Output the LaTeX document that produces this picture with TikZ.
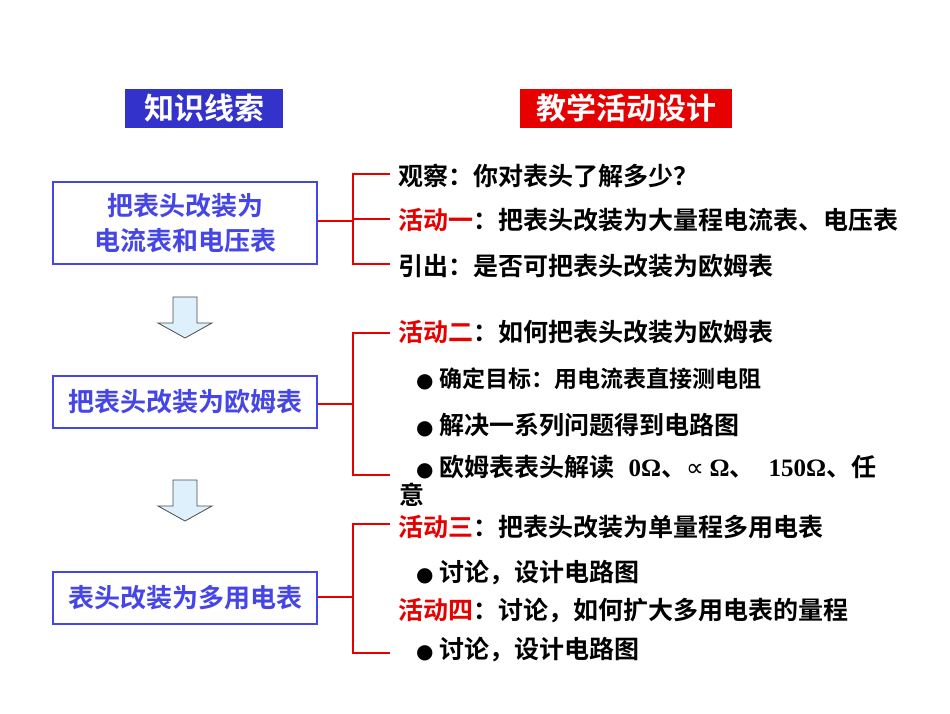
\documentclass[tikz,border=0pt]{standalone}
\usepackage{fontspec}
\setmainfont{Noto Sans CJK SC Bold}
\newfontfamily\serifb{Liberation Serif}[BoldFont=* Bold]
\newfontfamily\dejavu{DejaVu Sans}
\definecolor{tblue}{RGB}{51,51,204}
\definecolor{bblue}{RGB}{70,70,230}
\definecolor{tred}{RGB}{230,0,0}
\definecolor{arrfill}{RGB}{222,240,252}
\newcommand{\bul}{{\dejavu\fontsize{20}{22}\selectfont●}\hspace{6pt}}
\tikzset{
 title/.style={minimum width=#1, minimum height=39pt, inner sep=0pt, text=white, font=\fontsize{30}{32}\selectfont},
 kbox/.style={draw=bblue, line width=2.5pt, minimum width=264pt, text=bblue, align=center, font=\fontsize{26}{35}\selectfont, inner sep=0pt},
 brk/.style={draw=tred, line width=2pt},
 txt/.style={anchor=west, inner sep=0pt, font=\fontsize{25}{26}\selectfont},
 dnarrow/.style={draw=black!70, fill=arrfill, line width=0.8pt}
}
\begin{document}
\begin{tikzpicture}[x=1pt,y=-1pt]
\useasboundingbox (0,0) rectangle (950,713);
\node[title=158pt, fill=tblue] (t1) at (204,108) {知识线索};
\node[title=212pt, fill=tred] (t2) at (626,108) {教学活动设计};
\node[kbox, minimum height=82pt] (b1) at (185,223) {把表头改装为\\电流表和电压表};
\node[kbox, minimum height=52pt] (b2) at (185,402) {把表头改装为欧姆表};
\node[kbox, minimum height=52pt] (b3) at (185,598) {表头改装为多用电表};
\foreach \y in {297,480}{
 \draw[dnarrow] (173,\y) -- (197,\y) -- (197,\y+26) -- (212,\y+26) -- (185,\y+41) -- (158,\y+26) -- (173,\y+26) -- cycle;
}
% brackets
\coordinate (j1) at (353,221);
\draw[brk] (b1.east |- j1) -- (j1);
\draw[brk] (390,174) -- (353,174) -- (353,264) -- (390,264);
\draw[brk] (353,219) -- (390,219);
\coordinate (j2) at (353,404);
\draw[brk] (b2.east |- j2) -- (j2);
\draw[brk] (390,333) -- (353,333) -- (353,475) -- (390,475);
\coordinate (j3) at (353,597);
\draw[brk] (b3.east |- j3) -- (j3);
\draw[brk] (390,524) -- (353,524) -- (353,653) -- (390,653);
% texts
\node[txt] (l1) at (398,176) {观察：你对表头了解多少？};
\node[txt] (l2) at (398,220) {\textcolor{tred}{活动一}：把表头改装为大量程电流表、电压表};
\node[txt] (l3) at (398,266) {引出：是否可把表头改装为欧姆表};
\node[txt] (l4) at (398,332) {\textcolor{tred}{活动二}：如何把表头改装为欧姆表};
\node[txt, font=\fontsize{23}{26}\selectfont] (l5) at (416,379) {\bul 确定目标：用电流表直接测电阻};
\node[txt] (l6) at (416,425) {\bul 解决一系列问题得到电路图};
\node[txt] (l7) at (416,467) {\bul 欧姆表表头解读\hspace{14pt}{\serifb\bfseries 0Ω}、{\dejavu ∝} {\serifb\bfseries Ω}、\hspace{14pt}{\serifb\bfseries 150Ω}、任};
\node[txt] (l8) at (399,495) {意};
\node[txt] (l9) at (398,527) {\textcolor{tred}{活动三}：把表头改装为单量程多用电表};
\node[txt] (l10) at (416,573) {\bul 讨论，设计电路图};
\node[txt] (l11) at (398,611) {\textcolor{tred}{活动四}：讨论，如何扩大多用电表的量程};
\node[txt] (l12) at (416,650) {\bul 讨论，设计电路图};
\end{tikzpicture}
\end{document}
